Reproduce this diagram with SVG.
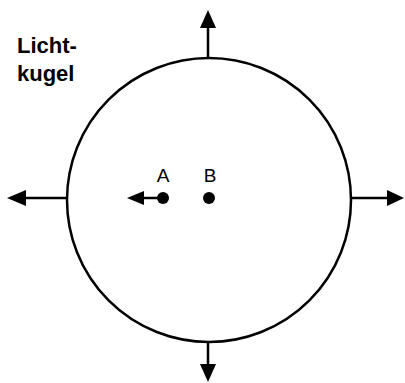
<svg xmlns="http://www.w3.org/2000/svg" width="405" height="383" viewBox="0 0 405 383">
<style>
.ln{stroke:#000;stroke-width:2.5;fill:none}
.hd{fill:#000}
.lbl{font-family:"Liberation Sans",Arial,sans-serif;fill:#000}
</style>
<rect width="405" height="383" fill="#fff"/>
<g id="sphere">
<circle cx="209" cy="200" r="142" class="ln" stroke-width="2"/>
</g>
<g id="title">
<text class="lbl" x="17" y="53" font-size="22" font-weight="bold">Licht-</text>
<text class="lbl" x="17" y="81" font-size="22" font-weight="bold">kugel</text>
</g>
<g id="pointA">
<circle cx="163" cy="198" r="6" class="hd"/>
<text class="lbl" x="163" y="182" font-size="19" text-anchor="middle">A</text>
</g>
<g id="pointB">
<circle cx="209" cy="198" r="6" class="hd"/>
<text class="lbl" x="210" y="182" font-size="19" text-anchor="middle">B</text>
</g>
<g id="connectors">
<line x1="208" y1="59" x2="208" y2="26" class="ln"/>
<polygon points="208,10 200,28 216,28" class="hd"/>
<line x1="208" y1="342" x2="208" y2="366" class="ln"/>
<polygon points="208,382 200,364 216,364" class="hd"/>
<line x1="67" y1="198" x2="24" y2="198" class="ln"/>
<polygon points="7,198 26,190 26,206" class="hd"/>
<line x1="351" y1="198" x2="390" y2="198" class="ln"/>
<polygon points="404,198 387,190 387,206" class="hd"/>
<line x1="160" y1="198" x2="141" y2="198" class="ln"/>
<polygon points="127,198 144,191 144,205" class="hd"/>
</g>
</svg>
